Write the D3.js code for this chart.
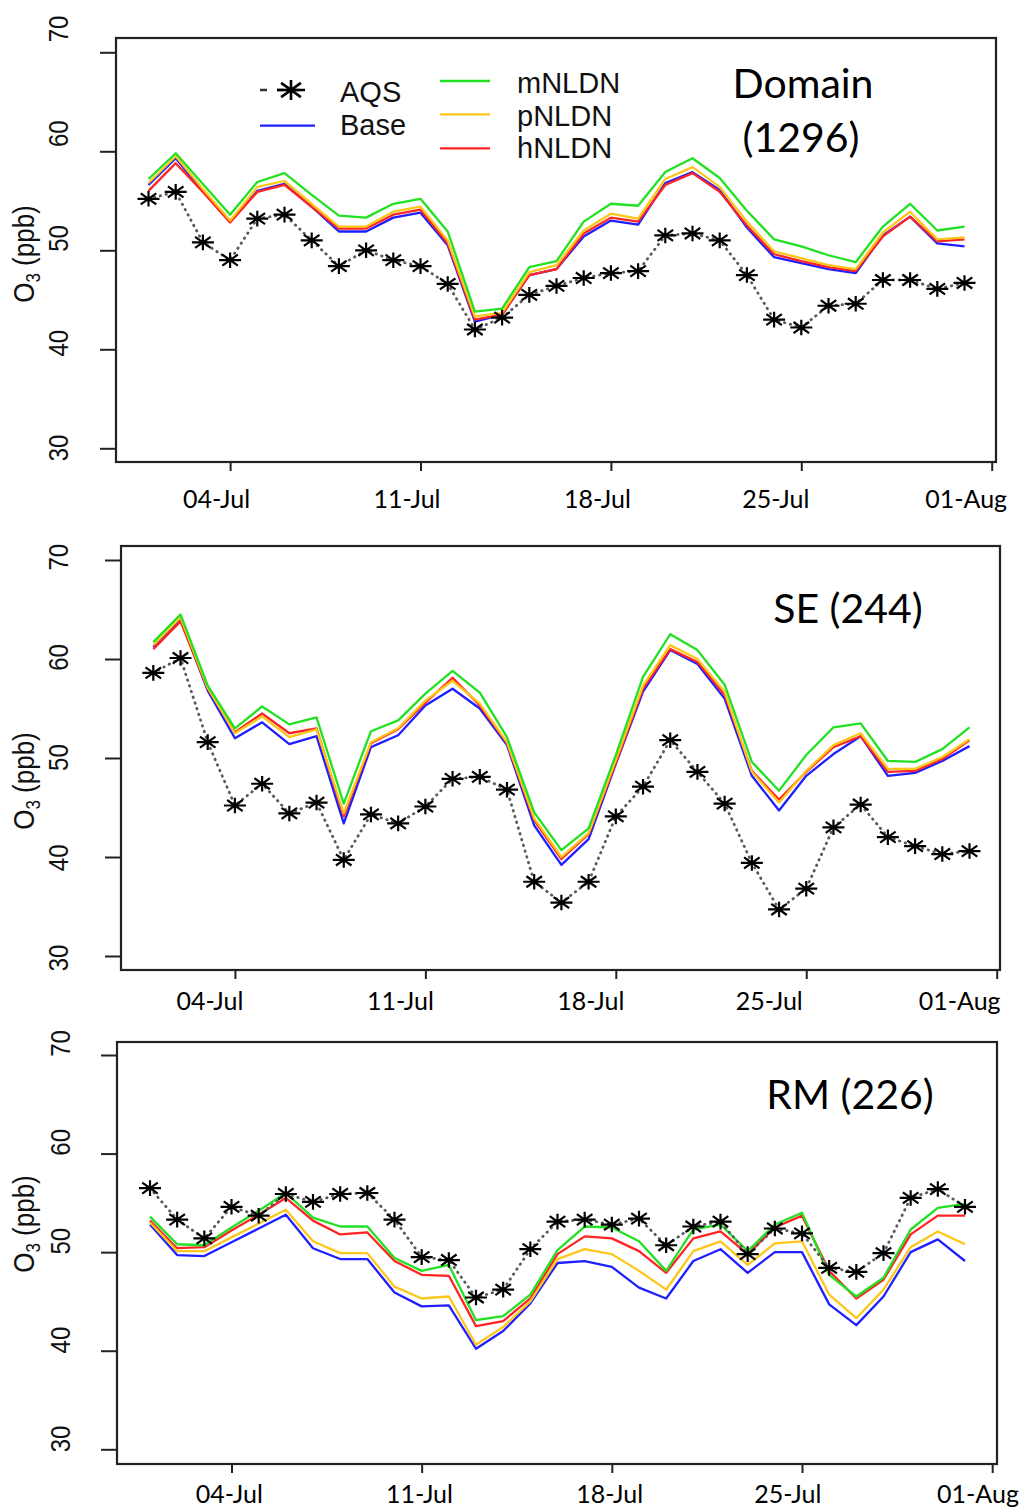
<!DOCTYPE html>
<html>
<head>
<meta charset="utf-8">
<script src="https://cdn.jsdelivr.net/npm/d3@7"></script>
<style>
  html, body { margin: 0; padding: 0; background: #fff; }
  svg { display: block; }
</style>
</head>
<body>
<svg id="chart" width="1023" height="1510"></svg>
<script>
// ---- data: daily mean O3 (ppb), July ----
const days = [1, 2, 3, 4, 5, 6, 7, 8, 9, 10, 11, 12, 13, 14, 15, 16,
              17, 18, 19, 20, 21, 22, 23, 24, 25, 26, 27, 28, 29, 30, 31];
const tickDays = [4, 11, 18, 25, 32];
const tickLabels = ["04-Jul", "11-Jul", "18-Jul", "25-Jul", "01-Aug"];
const yTicks = [30, 40, 50, 60, 70];
const seriesNames = ["AQS", "Base", "mNLDN", "pNLDN", "hNLDN"];

// Domain (1296 sites)
const domainAQS   = [55.2, 55.9, 50.8, 49.0, 53.2, 53.6, 51.0, 48.4, 50.0, 49.0, 48.4, 46.6, 42.0, 43.2, 45.5, 46.4,
                     47.2, 47.7, 47.9, 51.5, 51.7, 51.0, 47.5, 43.0, 42.2, 44.4, 44.6, 47.0, 47.0, 46.1, 46.7];
const domainBase  = [56.6, 59.3, 56.0, 52.9, 56.0, 56.7, 54.4, 51.9, 51.9, 53.3, 53.8, 50.5, 42.8, 43.5, 47.5, 48.1,
                     51.4, 53.0, 52.6, 56.8, 57.9, 56.1, 52.3, 49.3, 48.7, 48.1, 47.7, 51.5, 53.4, 50.7, 50.4];
const domainMNLDN = [57.2, 59.8, 56.7, 53.6, 56.9, 57.8, 55.6, 53.5, 53.3, 54.7, 55.2, 51.9, 43.8, 44.1, 48.3, 48.9,
                     52.9, 54.7, 54.5, 57.9, 59.3, 57.3, 54.0, 51.1, 50.4, 49.5, 48.8, 52.4, 54.7, 52.0, 52.4];
const domainPNLDN = [56.8, 59.5, 56.2, 53.0, 56.4, 57.0, 54.7, 52.4, 52.4, 53.9, 54.4, 51.0, 43.3, 43.7, 47.8, 48.5,
                     52.0, 53.7, 53.2, 57.2, 58.4, 56.4, 52.9, 49.9, 49.2, 48.5, 48.1, 51.8, 53.9, 51.1, 51.3];
const domainHNLDN = [56.0, 58.8, 55.9, 52.8, 55.9, 56.6, 54.4, 52.2, 52.2, 53.6, 54.1, 50.7, 43.0, 43.5, 47.5, 48.1,
                     51.7, 53.3, 52.9, 56.6, 57.8, 55.9, 52.5, 49.6, 48.9, 48.3, 47.9, 51.4, 53.4, 50.9, 51.1];

// SE (244 sites)
const seAQS   = [58.6, 60.1, 51.6, 45.2, 47.4, 44.4, 45.5, 39.7, 44.3, 43.4, 45.1, 47.9, 48.1, 46.8, 37.5, 35.4,
                 37.5, 44.1, 47.1, 51.8, 48.6, 45.4, 39.4, 34.7, 36.8, 43.0, 45.3, 42.0, 41.1, 40.3, 40.6];
const seBase  = [61.2, 64.0, 56.8, 52.0, 53.6, 51.4, 52.2, 43.4, 51.1, 52.3, 55.3, 57.0, 55.0, 51.3, 43.2, 39.2,
                 41.8, 49.4, 56.7, 60.9, 59.5, 56.0, 48.2, 44.7, 48.2, 50.4, 52.2, 48.2, 48.5, 49.7, 51.2];
const seMNLDN = [61.7, 64.5, 57.3, 53.0, 55.2, 53.4, 54.1, 45.4, 52.7, 53.8, 56.5, 58.8, 56.6, 52.1, 44.5, 40.7,
                 42.9, 50.3, 58.2, 62.5, 60.9, 57.4, 49.6, 46.7, 50.3, 53.1, 53.5, 49.7, 49.6, 50.9, 53.1];
const sePNLDN = [61.4, 64.2, 57.1, 52.5, 54.2, 52.1, 52.9, 44.4, 51.6, 53.0, 55.8, 57.8, 55.5, 51.6, 43.9, 40.0,
                 42.4, 49.8, 57.3, 61.4, 60.0, 56.7, 48.6, 45.5, 48.7, 51.3, 52.5, 48.9, 48.9, 50.1, 51.9];
const seHNLDN = [61.0, 63.8, 57.0, 52.6, 54.5, 52.5, 53.0, 44.1, 51.5, 52.9, 55.6, 58.1, 55.3, 51.5, 43.7, 39.8,
                 42.3, 49.5, 57.0, 61.0, 59.7, 56.4, 48.7, 45.8, 48.6, 51.1, 52.2, 48.6, 48.7, 49.9, 51.8];

// RM (226 sites)
const rmAQS   = [56.5, 53.3, 51.4, 54.6, 53.7, 55.9, 55.1, 55.9, 56.0, 53.3, 49.5, 49.2, 45.4, 46.2, 50.3, 53.1,
                 53.3, 52.8, 53.4, 50.7, 52.6, 53.1, 49.8, 52.4, 51.9, 48.4, 48.0, 49.9, 55.5, 56.4, 54.6];
const rmBase  = [52.8, 49.7, 49.6, 51.0, 52.4, 53.8, 50.4, 49.3, 49.3, 45.9, 44.5, 44.6, 40.2, 42.0, 44.8, 48.9,
                 49.1, 48.5, 46.4, 45.3, 49.1, 50.3, 47.9, 50.0, 50.0, 44.7, 42.6, 45.5, 50.0, 51.3, 49.1];
const rmMNLDN = [53.6, 50.8, 50.7, 52.5, 54.2, 56.0, 53.5, 52.6, 52.6, 49.4, 48.1, 48.7, 43.1, 43.5, 45.7, 50.2,
                 52.6, 52.5, 51.1, 48.1, 52.3, 52.8, 50.1, 52.8, 54.0, 47.7, 45.5, 47.4, 52.3, 54.5, 54.9];
const rmPNLDN = [53.0, 50.1, 50.1, 51.5, 52.9, 54.3, 51.1, 49.9, 49.9, 46.5, 45.3, 45.5, 40.6, 42.4, 45.0, 49.3,
                 50.3, 49.8, 48.1, 46.2, 50.1, 51.1, 48.7, 50.9, 51.1, 45.7, 43.3, 46.2, 50.5, 52.1, 50.8];
const rmHNLDN = [53.2, 50.4, 50.5, 52.2, 53.8, 55.5, 53.2, 51.8, 52.0, 49.1, 47.7, 47.6, 42.5, 43.0, 45.3, 49.8,
                 51.6, 51.4, 50.1, 47.9, 51.4, 52.1, 49.8, 52.5, 53.7, 48.1, 45.3, 47.2, 51.8, 53.7, 53.7];

// ---- styling ----
const colors = { Base: "#1f1fff", mNLDN: "#22e022", pNLDN: "#ffc61a", hNLDN: "#ff2424" };
const modelDrawOrder = ["Base", "hNLDN", "pNLDN", "mNLDN"];
const labelFont = "'Liberation Sans', Arial, Helvetica, sans-serif";
const titleFont = "Lato, 'Open Sans', sans-serif";
const lastTicksShift = [0, 0, 0, -12, -12];

const panels = [
  {
    series: { AQS: domainAQS, Base: domainBase, mNLDN: domainMNLDN, pNLDN: domainPNLDN, hNLDN: domainHNLDN },
    frame: { l: 116, t: 38, r: 996, b: 462 },
    xr: [148.5, 964.5], yr: [448.3, 52.3], labR: [447.5, 28.5], labX: 68,
    titles: [{ text: "Domain", x: 803, y: 98 }, { text: "(1296)", x: 801, y: 152 }],
    axisTitleY: 254, tickBase: 508, tickShift: -14, legend: true
  },
  {
    series: { AQS: seAQS, Base: seBase, mNLDN: seMNLDN, pNLDN: sePNLDN, hNLDN: seHNLDN },
    frame: { l: 121, t: 546, r: 1000, b: 970 },
    xr: [153.3, 969.5], yr: [956, 560], labR: [957.5, 556.7], labX: 68,
    titles: [{ text: "SE (244)", x: 848, y: 623 }],
    axisTitleY: 781, tickBase: 1010, tickShift: -25.5, legend: false
  },
  {
    series: { AQS: rmAQS, Base: rmBase, mNLDN: rmMNLDN, pNLDN: rmPNLDN, hNLDN: rmHNLDN },
    frame: { l: 117, t: 1042, r: 997, b: 1464 },
    xr: [150, 965], yr: [1449.3, 1055], labR: [1438.5, 1043], labX: 70,
    titles: [{ text: "RM (226)", x: 850, y: 1109 }],
    axisTitleY: 1224, tickBase: 1503, tickShift: -2.7, legend: false
  }
];

const svg = d3.select("#chart");
svg.append("rect").attr("width", 1023).attr("height", 1510).attr("fill", "#fff");

// asterisk marker (plus + cross), slightly wider than tall
function starPath(cx, cy, rx, ry) {
  const dx = rx * Math.SQRT1_2, dy = ry * Math.SQRT1_2;
  return `M${cx - rx},${cy}L${cx + rx},${cy}` +
         `M${cx},${cy - ry}L${cx},${cy + ry}` +
         `M${cx - dx},${cy - dy}L${cx + dx},${cy + dy}` +
         `M${cx - dx},${cy + dy}L${cx + dx},${cy - dy}`;
}

panels.forEach(p => {
  const g = svg.append("g");
  const x = d3.scaleLinear().domain([days[0], days[days.length - 1]]).range(p.xr);
  const y = d3.scaleLinear().domain([30, 70]).range(p.yr);
  const yLab = d3.scaleLinear().domain([30, 70]).range(p.labR);

  // y axis: ticks from the value scale, labels rotated R-style
  const yAxis = g.append("g")
    .attr("transform", `translate(${p.frame.l},0)`)
    .call(d3.axisLeft(y).tickValues(yTicks).tickSize(16).tickSizeOuter(0).tickFormat(d3.format("d")));
  yAxis.select(".domain").remove();
  yAxis.selectAll(".tick line").attr("stroke", "#222").attr("stroke-width", 2);
  yAxis.selectAll(".tick text")
    .attr("x", null).attr("y", null).attr("dy", null)
    .attr("transform", d => `translate(${p.labX - p.frame.l},${yLab(d) - y(d)}) rotate(-90) scale(1,1.15)`)
    .attr("text-anchor", "middle")
    .attr("font-family", labelFont).attr("font-size", 24).attr("fill", "#111");

  // x axis
  const xAxis = g.append("g")
    .attr("transform", `translate(0,${p.frame.b})`)
    .call(d3.axisBottom(x).tickValues(tickDays).tickSize(9).tickSizeOuter(0)
      .tickFormat((d, i) => tickLabels[i]));
  xAxis.select(".domain").remove();
  xAxis.selectAll(".tick line").attr("stroke", "#222").attr("stroke-width", 2);
  xAxis.selectAll(".tick text")
    .attr("y", p.tickBase - p.frame.b).attr("dy", null)
    .attr("x", (d, i) => p.tickShift + lastTicksShift[i])
    .attr("text-anchor", "middle")
    .attr("font-family", titleFont).attr("font-size", 25).attr("fill", "#000");

  // axis title: O3 (ppb)
  const at = g.append("text")
    .attr("transform", `translate(34,${p.axisTitleY}) rotate(-90) scale(1,1.15)`)
    .attr("text-anchor", "middle")
    .attr("font-family", labelFont).attr("font-size", 26).attr("fill", "#111");
  at.append("tspan").text("O");
  at.append("tspan").attr("font-size", 17).attr("dy", 5).text("3");
  at.append("tspan").attr("dy", -5).text(" (ppb)");

  // model lines
  const line = d3.line().x((v, i) => x(days[i])).y(v => y(v));
  modelDrawOrder.forEach(name => {
    g.append("path")
      .attr("d", line(p.series[name]))
      .attr("fill", "none")
      .attr("stroke", colors[name])
      .attr("stroke-width", 2.3)
      .attr("stroke-linejoin", "round");
  });

  // observations: dotted line with asterisks
  g.append("path")
    .attr("d", line(p.series.AQS))
    .attr("fill", "none")
    .attr("stroke", "#5a5a5a")
    .attr("stroke-width", 2.8)
    .attr("stroke-linecap", "round")
    .attr("stroke-dasharray", "0.5,5.5");
  g.append("g").selectAll("path")
    .data(p.series.AQS)
    .join("path")
    .attr("d", (v, i) => starPath(x(days[i]), y(v), 11, 7.8))
    .attr("stroke", "#000")
    .attr("stroke-width", 2.2)
    .attr("fill", "none");

  // frame
  g.append("rect")
    .attr("x", p.frame.l).attr("y", p.frame.t)
    .attr("width", p.frame.r - p.frame.l).attr("height", p.frame.b - p.frame.t)
    .attr("fill", "none").attr("stroke", "#222").attr("stroke-width", 2.2);

  // region title
  p.titles.forEach(t => {
    g.append("text")
      .attr("x", t.x).attr("y", t.y)
      .attr("text-anchor", "middle")
      .attr("font-family", titleFont).attr("font-size", 41).attr("fill", "#000")
      .text(t.text);
  });

  // legend
  if (p.legend) {
    const lg = g.append("g").attr("font-family", labelFont).attr("font-size", 29).attr("fill", "#111");
    // AQS
    lg.append("line").attr("x1", 260).attr("x2", 300).attr("y1", 90).attr("y2", 90)
      .attr("stroke", "#333").attr("stroke-width", 2.5).attr("stroke-dasharray", "7,10");
    lg.append("path").attr("d", starPath(291, 90, 14, 10))
      .attr("stroke", "#000").attr("stroke-width", 2.6).attr("fill", "none");
    lg.append("text").attr("x", 340).attr("y", 102).text(seriesNames[0]);
    // Base
    lg.append("line").attr("x1", 260).attr("x2", 315).attr("y1", 125.7).attr("y2", 125.7)
      .attr("stroke", colors.Base).attr("stroke-width", 2.3);
    lg.append("text").attr("x", 340).attr("y", 135).text(seriesNames[1]);
    // NLDN variants
    const rows = [{ n: seriesNames[2], ly: 81, ty: 93 },
                  { n: seriesNames[3], ly: 114.3, ty: 126 },
                  { n: seriesNames[4], ly: 148.3, ty: 158 }];
    rows.forEach(r => {
      lg.append("line").attr("x1", 440).attr("x2", 490).attr("y1", r.ly).attr("y2", r.ly)
        .attr("stroke", colors[r.n]).attr("stroke-width", 2.3);
      lg.append("text").attr("x", 517).attr("y", r.ty).text(r.n);
    });
  }
});
</script>
</body>
</html>
